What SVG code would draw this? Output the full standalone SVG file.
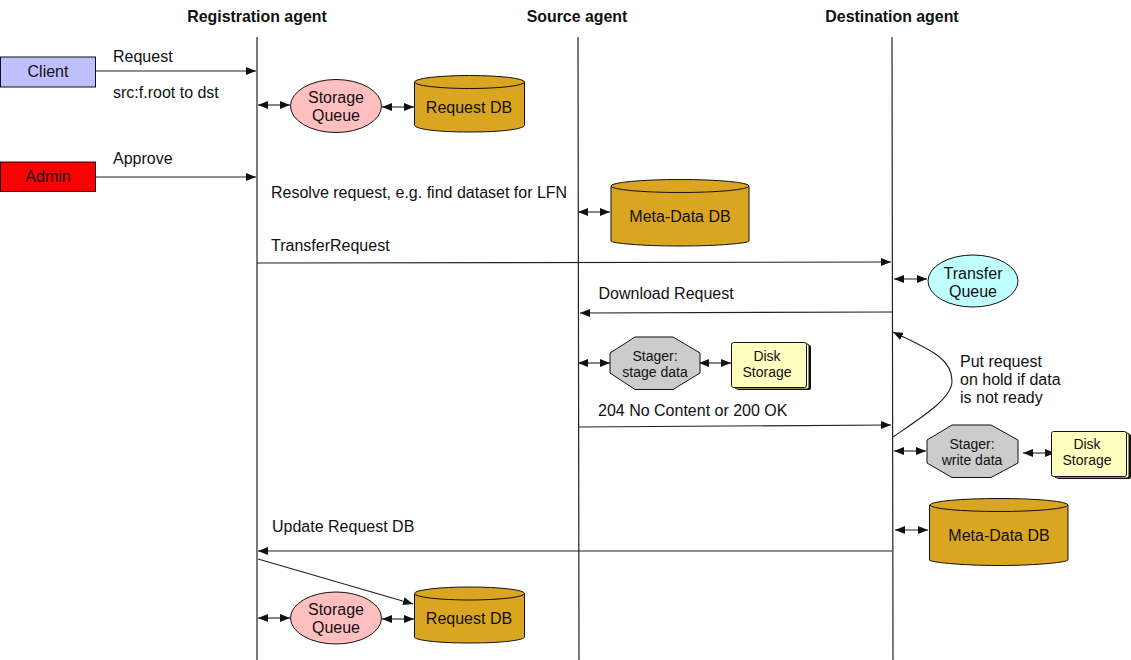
<svg xmlns="http://www.w3.org/2000/svg" width="1131" height="660" viewBox="0 0 1131 660">
<style>
text{font-family:"Liberation Sans",Arial,sans-serif;font-size:16px;fill:#111}
.h{font-weight:bold;font-size:15.900px;text-anchor:middle}
.m{text-anchor:middle}
.s{font-size:14px}
.n{stroke:#111;stroke-width:1}
.db{fill:#daa520}
.c{fill:none;stroke:#222;stroke-width:1.1;marker-end:url(#a)}
.b{fill:none;stroke:#222;stroke-width:1.1;marker-end:url(#a);marker-start:url(#r)}
.l{fill:none;stroke:#222;stroke-width:1.2}
</style>
<defs>
<marker id="a" markerUnits="userSpaceOnUse" markerWidth="11" markerHeight="8" refX="10" refY="4" orient="auto"><path d="M0 0L10 4L0 8Z" fill="#111"/></marker>
<marker id="r" markerUnits="userSpaceOnUse" markerWidth="11" markerHeight="8" refX="0" refY="4" orient="auto"><path d="M10 0L0 4L10 8Z" fill="#111"/></marker>
</defs>
<text class="h" x="257" y="22">Registration agent</text>
<text class="h" x="577" y="22">Source agent</text>
<text class="h" x="892" y="22">Destination agent</text>
<g id="connectors">
<path class="l" d="M257 37V660M578 37L579 660M892 37L893 660"/>
<path class="c" d="M96 71H256"/>
<path class="c" d="M96 177H256"/>
<path class="b" d="M258 105H290"/>
<path class="b" d="M382 107H414"/>
<path class="b" d="M578 212H610"/>
<path class="c" d="M257 263L891 262"/>
<path class="b" d="M894 279H927"/>
<path class="c" d="M892 312L580 313"/>
<path class="b" d="M578 363H610"/>
<path class="b" d="M699 363H731"/>
<path class="c" d="M579 427L891 425"/>
<path class="c" d="M893 437C925 415 952 398 952 381C952 358 930 350 893 332"/>
<path class="b" d="M894 451H926"/>
<path class="b" d="M1023 453H1055"/>
<path class="b" d="M895 530H928"/>
<path class="c" d="M892 551H258"/>
<path class="c" d="M258 559L413 604"/>
<path class="b" d="M258 618H290"/>
<path class="b" d="M382 619H414"/>
</g>
<g id="client"><rect class="n" x="0.5" y="57" width="95" height="30" fill="#bfbfff"/><text class="m" x="48" y="77">Client</text></g>
<g id="admin"><rect class="n" x="0.5" y="162" width="95" height="29.500" fill="#f00"/><text class="m" x="48" y="182">Admin</text></g>
<text x="113" y="62">Request</text>
<text x="113" y="98">src:f.root to dst</text>
<text x="113" y="164">Approve</text>
<g id="storage-queue-1"><ellipse class="n" cx="336" cy="106" rx="45.500" ry="26.500" fill="#ffbfbf"/><text class="m" x="336" y="103">Storage</text><text class="m" x="336" y="121">Queue</text></g>
<g id="request-db-1"><path class="n db" d="M414.500 82V125C414.500 129 436 132 469.500 132S524.500 129 524.500 125V82Z"/><ellipse class="n db" cx="469.500" cy="82" rx="55" ry="6.500"/><text class="m" x="469" y="113">Request DB</text></g>
<text x="271" y="198">Resolve request, e.g. find dataset for LFN</text>
<g id="meta-db-1"><path class="n db" d="M611 186V241C611 243 640 246 680 246S749 243 749 241V186Z"/><ellipse class="n db" cx="680" cy="186" rx="69" ry="6.500"/><text class="m" x="680" y="222">Meta-Data DB</text></g>
<text x="271" y="251">TransferRequest</text>
<g id="transfer-queue"><ellipse class="n" cx="973" cy="281" rx="45" ry="26" fill="#bfffff"/><text class="m" x="973" y="279">Transfer</text><text class="m" x="973" y="297">Queue</text></g>
<text x="598.500" y="299">Download Request</text>
<g id="stager-stage"><polygon class="n" points="635,337 673,337 700,353 700,373 673,389.500 635,389.500 610,373 610,353" fill="#ccc"/><text class="m s" x="655" y="361">Stager:</text><text class="m s" x="655" y="377">stage data</text></g>
<g id="disk-1"><rect x="737" y="345" width="74" height="45" rx="2" fill="#111"/><rect class="n" x="735" y="344" width="74" height="45" rx="2" fill="#ffffc0"/><rect class="n" x="731.500" y="342.500" width="75" height="45" rx="2" fill="#ffffc0"/><text class="m s" x="767" y="361">Disk</text><text class="m s" x="767" y="377">Storage</text></g>
<text x="598" y="416">204 No Content or 200 OK</text>
<g id="hold-note"><text x="960" y="367">Put request</text><text x="960" y="385">on hold if data</text><text x="960" y="403">is not ready</text></g>
<g id="stager-write"><polygon class="n" points="952,425 991,425 1018,440 1018,463 991,477.500 952,477.500 927,463 927,440" fill="#ccc"/><text class="m s" x="972" y="449">Stager:</text><text class="m s" x="972" y="465">write data</text></g>
<g id="disk-2"><rect x="1057" y="434" width="74" height="45" rx="2" fill="#111"/><rect class="n" x="1055" y="433" width="74" height="45" rx="2" fill="#ffffc0"/><rect class="n" x="1051.500" y="431.500" width="75" height="45" rx="2" fill="#ffffc0"/><text class="m s" x="1087" y="449">Disk</text><text class="m s" x="1087" y="465">Storage</text></g>
<g id="meta-db-2"><path class="n db" d="M929.500 505V560C929.500 562 960 565.500 999 565.500S1068 562 1068 560V505Z"/><ellipse class="n db" cx="999" cy="505" rx="69" ry="6.500"/><text class="m" x="999" y="541">Meta-Data DB</text></g>
<text x="272" y="532">Update Request DB</text>
<g id="storage-queue-2"><ellipse class="n" cx="336" cy="618" rx="45.500" ry="26" fill="#ffbfbf"/><text class="m" x="336" y="615">Storage</text><text class="m" x="336" y="633">Queue</text></g>
<g id="request-db-2"><path class="n db" d="M414.500 594V637C414.500 640 436 643 469.500 643S524.500 640 524.500 637V594Z"/><ellipse class="n db" cx="469.500" cy="593.500" rx="55" ry="6.500"/><text class="m" x="469" y="624">Request DB</text></g>
</svg>
